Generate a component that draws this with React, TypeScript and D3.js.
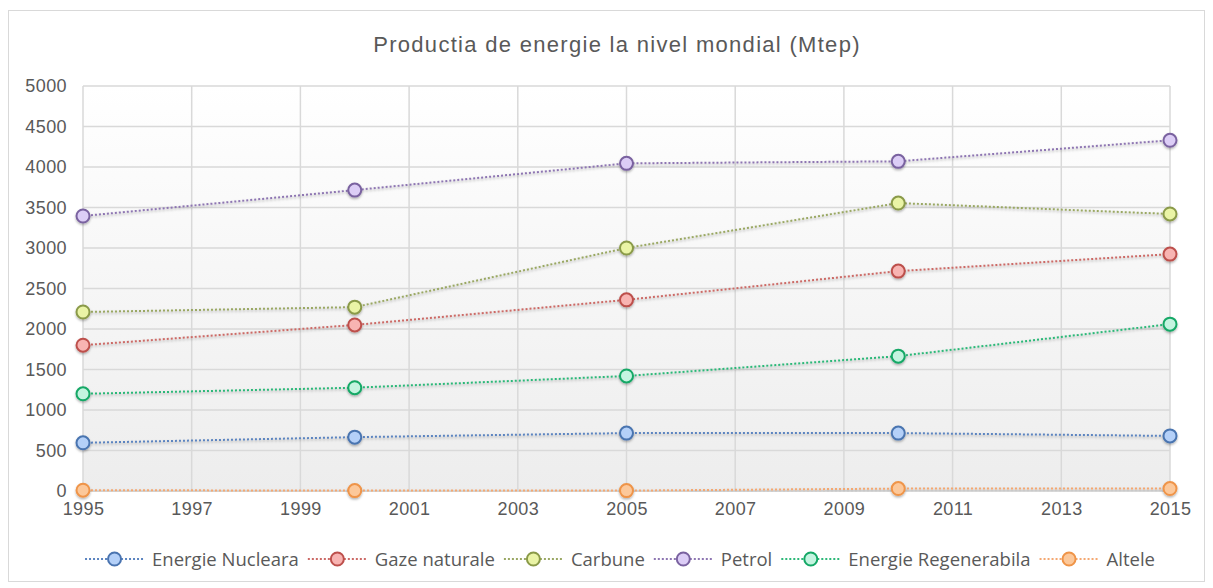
import React, { useEffect, useRef } from 'react';
import * as d3 from 'd3';

const years = [1995, 2000, 2005, 2010, 2015];
const seriesNames = ['Energie Nucleara', 'Gaze naturale', 'Carbune', 'Petrol', 'Energie Regenerabila', 'Altele'];
const nuclear = [595, 665, 715, 715, 680];
const gas = [1800, 2050, 2360, 2715, 2925];
const coal = [2210, 2270, 3000, 3555, 3420];
const petrol = [3395, 3715, 4045, 4070, 4330];
const renewable = [1200, 1275, 1420, 1665, 2060];
const other = [10, 5, 5, 30, 30];
const yTicks = [0, 500, 1000, 1500, 2000, 2500, 3000, 3500, 4000, 4500, 5000];
const xTicks = [1995, 1997, 1999, 2001, 2003, 2005, 2007, 2009, 2011, 2013, 2015];

const strokes = ['#4a74b0', '#bd504c', '#8a9a48', '#7a62a0', '#14a866', '#ef9448'];
const fills = ['#b4d0f8', '#f8b4b2', '#eaf4a6', '#dccdf6', '#c4f4e0', '#fcc89a'];
const lineColors = ['#5b84c0', '#cc6a66', '#9aa864', '#8e76b2', '#2cb878', '#f4a872'];

const W = 1213;
const H = 588;

export default function App() {
  const ref = useRef<SVGSVGElement>(null);

  useEffect(() => {
    if (!ref.current) return;
    const svg = d3.select(ref.current);
    svg.selectAll('*').remove();

    const values = [nuclear, gas, coal, petrol, renewable, other];
    const margin = { left: 83, right: W - 1170, top: 86, bottom: H - 491 };

    const x = d3.scaleLinear().domain([1995, 2015]).range([margin.left, W - margin.right]);
    const y = d3.scaleLinear().domain([0, 5000]).range([H - margin.bottom, margin.top]);

    const defs = svg.append('defs');
    const grad = defs.append('linearGradient').attr('id', 'bg').attr('x1', 0).attr('y1', 0).attr('x2', 0).attr('y2', 1);
    grad.append('stop').attr('offset', '0%').attr('stop-color', '#ffffff');
    grad.append('stop').attr('offset', '100%').attr('stop-color', '#ededed');
    const f = defs.append('filter').attr('id', 'sh').attr('x', '-50%').attr('y', '-50%').attr('width', '200%').attr('height', '200%');
    f.append('feDropShadow').attr('dx', 0).attr('dy', 1.5).attr('stdDeviation', 1.2).attr('flood-color', '#000').attr('flood-opacity', 0.3);

    // outer frame
    svg.append('rect').attr('x', 8.5).attr('y', 10.5).attr('width', 1196).attr('height', 571)
      .attr('fill', '#fff').attr('stroke', '#d9d9d9');

    // plot background
    svg.append('rect')
      .attr('x', x(1995)).attr('y', y(5000))
      .attr('width', x(2015) - x(1995)).attr('height', y(0) - y(5000))
      .attr('fill', 'url(#bg)');

    // title
    svg.append('text').attr('x', 617).attr('y', 52).attr('text-anchor', 'middle')
      .attr('font-family', 'Liberation Sans, Arial, sans-serif').attr('font-size', 22)
      .attr('letter-spacing', 1.3).attr('fill', '#595959')
      .text('Productia de energie la nivel mondial (Mtep)');

    // grid
    const grid = svg.append('g').attr('stroke', '#d9d9d9').attr('stroke-width', 1.5);
    yTicks.forEach(t => {
      grid.append('line').attr('x1', x(1995)).attr('x2', x(2015)).attr('y1', y(t)).attr('y2', y(t));
    });
    xTicks.forEach(t => {
      grid.append('line').attr('x1', x(t)).attr('x2', x(t)).attr('y1', y(0)).attr('y2', y(5000));
    });

    // axes labels
    const yAxis = svg.append('g').attr('transform', `translate(${x(1995)},0)`)
      .call(d3.axisLeft(y).tickValues(yTicks).tickSize(0).tickPadding(16).tickFormat(d3.format('d')));
    yAxis.select('.domain').remove();
    yAxis.selectAll('text').attr('font-family', 'Liberation Sans, Arial, sans-serif').attr('font-size', 18)
      .attr('letter-spacing', 0.4).attr('fill', '#595959');

    const xAxis = svg.append('g').attr('transform', `translate(0,${y(0)})`)
      .call(d3.axisBottom(x).tickValues(xTicks).tickSize(0).tickPadding(11).tickFormat(d3.format('d')));
    xAxis.select('.domain').remove();
    xAxis.selectAll('text').attr('font-family', 'Liberation Sans, Arial, sans-serif').attr('font-size', 18)
      .attr('letter-spacing', 0.4).attr('fill', '#595959');

    // lines
    const line = d3.line<number>().x((_, i) => x(years[i])).y(d => y(d));
    values.forEach((vals, s) => {
      svg.append('path').datum(vals).attr('d', line).attr('fill', 'none')
        .attr('stroke', lineColors[s]).attr('stroke-width', 2).attr('stroke-dasharray', '2,2')
        .attr('filter', 'url(#sh)');
    });
    values.forEach((vals, s) => {
      svg.append('g').selectAll('circle').data(vals).join('circle')
        .attr('cx', (_, i) => x(years[i])).attr('cy', d => y(d)).attr('r', 6.5)
        .attr('fill', fills[s]).attr('stroke', strokes[s]).attr('stroke-width', 2)
        .attr('filter', 'url(#sh)');
    });

    // legend
    const lg = svg.append('g');
    const ly = 559;
    const items: { g: any; w: number }[] = [];
    seriesNames.forEach((name, s) => {
      const g = lg.append('g');
      g.append('line').attr('x1', 0).attr('x2', 59).attr('y1', ly).attr('y2', ly)
        .attr('stroke', lineColors[s]).attr('stroke-width', 2).attr('stroke-dasharray', '2,2');
      g.append('circle').attr('cx', 29.5).attr('cy', ly).attr('r', 6.5)
        .attr('fill', fills[s]).attr('stroke', strokes[s]).attr('stroke-width', 2);
      const t = g.append('text').attr('x', 67).attr('y', ly + 6.5)
        .attr('font-family', 'Open Sans, sans-serif').attr('font-size', 18.5).attr('fill', '#595959')
        .text(name);
      const tw = (t.node() as SVGTextElement).getComputedTextLength();
      items.push({ g, w: 67 + tw });
    });
    const gap = 9;
    const total = d3.sum(items, d => d.w) + gap * (items.length - 1);
    let cx = 620 - total / 2;
    items.forEach(it => {
      it.g.attr('transform', `translate(${cx},0)`);
      cx += it.w + gap;
    });
  }, []);

  return (
    <svg ref={ref} width={W} height={H} style={{ position: 'absolute', left: 0, top: 0, background: '#fff' }} />
  );
}
